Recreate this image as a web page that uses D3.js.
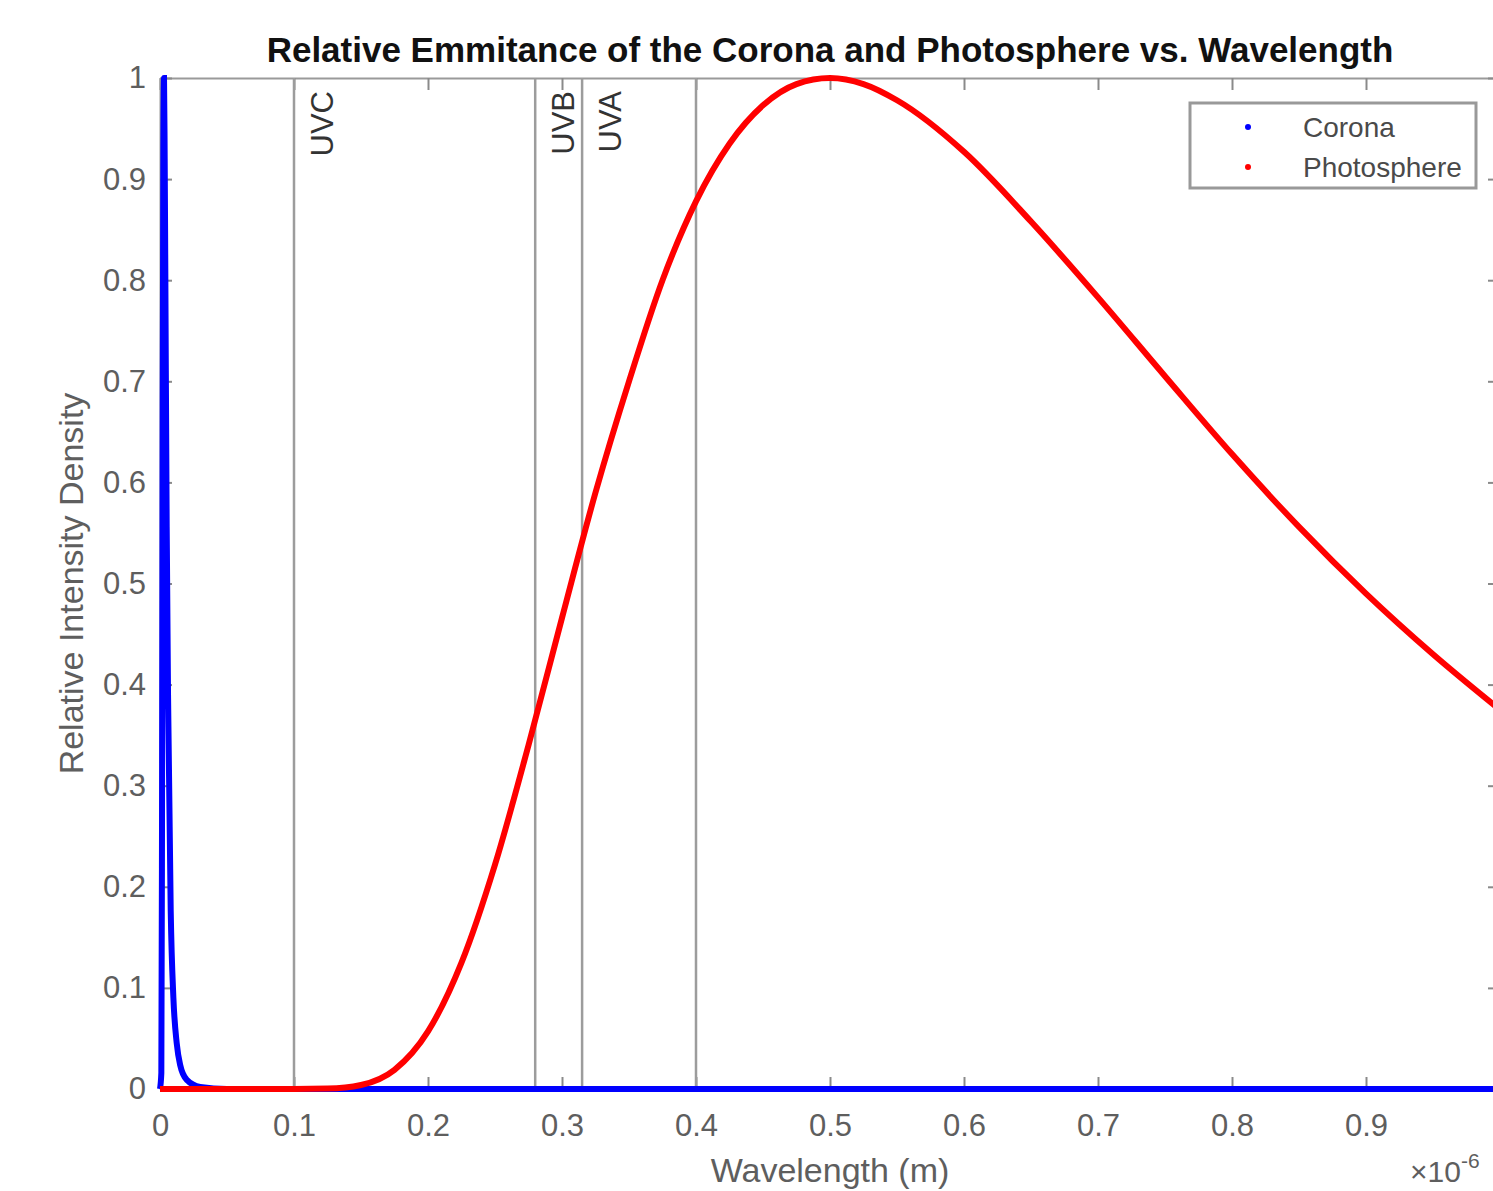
<!DOCTYPE html>
<html>
<head>
<meta charset="utf-8">
<script src="https://cdn.jsdelivr.net/npm/d3@7"></script>
<style>
  body { margin: 0; background: #fff; overflow: hidden; }
  text { font-family: "Liberation Sans", Arial, Helvetica, sans-serif; }
</style>
</head>
<body>
<script>
// wavelengths in units of 1e-6 m
var photoWave = [0, 0.05, 0.1, 0.125, 0.15, 0.175, 0.2, 0.225, 0.25, 0.275, 0.3, 0.325, 0.35, 0.375, 0.4,
  0.425, 0.45, 0.475, 0.5, 0.525, 0.55, 0.6, 0.65, 0.7, 0.75, 0.8, 0.85, 0.9, 0.95, 1.0];
var photoValues = [0, 0, 0, 0.0004, 0.004, 0.019, 0.057, 0.125, 0.222, 0.34, 0.466, 0.59, 0.70, 0.80, 0.878,
  0.935, 0.973, 0.994, 1.0, 0.994, 0.978, 0.927, 0.858, 0.783, 0.705, 0.628, 0.556, 0.49, 0.43, 0.375];

var coronaWave = [0, 0.001, 0.0015, 0.002, 0.0025, 0.003, 0.0035, 0.004, 0.005, 0.006, 0.008, 0.01, 0.0125,
  0.015, 0.02, 0.03, 0.05, 0.1, 0.2, 0.4, 0.6, 0.8, 1.0];
var coronaValues = [0, 0.016, 0.26, 0.68, 0.93, 1.0, 0.92, 0.80, 0.556, 0.39, 0.176, 0.09, 0.045,
  0.024, 0.009, 0.002, 0, 0, 0, 0, 0, 0, 0];

var uvLines = [0.1, 0.28, 0.315, 0.4];
var uvNames = ["UVC", "UVB", "UVA"];

var xTicks = [0, 0.1, 0.2, 0.3, 0.4, 0.5, 0.6, 0.7, 0.8, 0.9, 1];
var xTickLabels = ["0", "0.1", "0.2", "0.3", "0.4", "0.5", "0.6", "0.7", "0.8", "0.9", ""];
var yTicks = [0, 0.1, 0.2, 0.3, 0.4, 0.5, 0.6, 0.7, 0.8, 0.9, 1];
var yTickLabels = ["0", "0.1", "0.2", "0.3", "0.4", "0.5", "0.6", "0.7", "0.8", "0.9", "1"];

var w = 1493;
var h = 1191;
var pLeft = 160, pRight = 1500, pTop = 78, pBottom = 1089;

var svg = d3.select("body")
  .append("svg")
  .attr("width", w)
  .attr("height", h);

var x = d3.scaleLinear().domain([0, 1]).range([pLeft, pRight]);
var y = d3.scaleLinear().domain([0, 1]).range([pBottom, pTop]);

function styleAxis(g, showLabels) {
  g.select(".domain").attr("stroke", "#9a9a9a").attr("stroke-width", 2);
  g.selectAll(".tick line").attr("stroke", "#8a8a8a").attr("stroke-width", 2);
  g.selectAll(".tick text")
    .attr("fill", "#5e5e5e")
    .attr("font-size", "31px");
  if (!showLabels) g.selectAll(".tick text").remove();
}

// axes, MATLAB style ticks pointing inward
var xAxis = svg.append("g")
  .attr("transform", "translate(0," + pBottom + ")")
  .call(d3.axisBottom(x).tickValues(xTicks)
    .tickFormat(function(d, i) { return xTickLabels[i]; })
    .tickSizeInner(-12).tickSizeOuter(0).tickPadding(25));
styleAxis(xAxis, true);

var xTop = svg.append("g")
  .attr("transform", "translate(0," + pTop + ")")
  .call(d3.axisTop(x).tickValues(xTicks).tickSizeInner(-12).tickSizeOuter(0));
styleAxis(xTop, false);

var yAxis = svg.append("g")
  .attr("transform", "translate(" + pLeft + ",0)")
  .call(d3.axisLeft(y).tickValues(yTicks)
    .tickFormat(function(d, i) { return yTickLabels[i]; })
    .tickSizeInner(-12).tickSizeOuter(0).tickPadding(14));
styleAxis(yAxis, true);

var yRight = svg.append("g")
  .attr("transform", "translate(" + pRight + ",0)")
  .call(d3.axisRight(y).tickValues(yTicks).tickSizeInner(-12).tickSizeOuter(0));
styleAxis(yRight, false);

// UV band boundaries
svg.selectAll("line.uv")
  .data(uvLines)
  .enter()
  .append("line")
  .attr("class", "uv")
  .attr("x1", function(d) { return x(d); })
  .attr("x2", function(d) { return x(d); })
  .attr("y1", y(1))
  .attr("y2", y(0))
  .attr("stroke", "#9c9c9c")
  .attr("stroke-width", 2.5);

svg.selectAll("text.uvlabel")
  .data(uvNames)
  .enter()
  .append("text")
  .attr("class", "uvlabel")
  .attr("transform", function(d, i) {
    return "translate(" + (x(uvLines[i]) + 39) + "," + (pTop + 13) + ") rotate(-90)";
  })
  .attr("text-anchor", "end")
  .attr("font-size", "31px")
  .attr("fill", "#333")
  .text(function(d) { return d; });

// curves
var line = d3.line()
  .x(function(d) { return x(d[0]); })
  .y(function(d) { return y(d[1]); })
  .curve(d3.curveMonotoneX);

svg.append("path")
  .datum(d3.zip(coronaWave, coronaValues))
  .attr("d", line)
  .attr("fill", "none")
  .attr("stroke", "#0000ff")
  .attr("stroke-width", 6);

svg.append("path")
  .datum(d3.zip(photoWave, photoValues))
  .attr("d", line)
  .attr("fill", "none")
  .attr("stroke", "#ff0000")
  .attr("stroke-width", 6);

// title and labels
svg.append("text")
  .attr("x", (pLeft + pRight) / 2)
  .attr("y", 62)
  .attr("text-anchor", "middle")
  .attr("font-size", "35px")
  .attr("font-weight", "bold")
  .attr("fill", "#111")
  .text("Relative Emmitance of the Corona and Photosphere vs. Wavelength");

svg.append("text")
  .attr("x", (pLeft + pRight) / 2)
  .attr("y", 1182)
  .attr("text-anchor", "middle")
  .attr("font-size", "34px")
  .attr("fill", "#5e5e5e")
  .text("Wavelength (m)");

svg.append("text")
  .attr("transform", "translate(83," + ((pTop + pBottom) / 2) + ") rotate(-90)")
  .attr("text-anchor", "middle")
  .attr("font-size", "34px")
  .attr("fill", "#5e5e5e")
  .text("Relative Intensity Density");

var expo = svg.append("text")
  .attr("x", 1410)
  .attr("y", 1182)
  .attr("font-size", "30px")
  .attr("fill", "#5e5e5e");
expo.append("tspan").text("\u00d710");
expo.append("tspan").attr("dy", -14).attr("font-size", "21px").text("-6");

// legend
var legendNames = ["Corona", "Photosphere"];
var legendColors = ["#0000ff", "#ff0000"];

svg.append("rect")
  .attr("x", 1190)
  .attr("y", 103)
  .attr("width", 286)
  .attr("height", 85)
  .attr("fill", "#fff")
  .attr("stroke", "#999")
  .attr("stroke-width", 3);

var leg = svg.selectAll("g.leg")
  .data(legendNames)
  .enter()
  .append("g")
  .attr("class", "leg")
  .attr("transform", function(d, i) { return "translate(0," + (127 + i * 40) + ")"; });

leg.append("circle")
  .attr("cx", 1248)
  .attr("cy", 0)
  .attr("r", 3)
  .attr("fill", function(d, i) { return legendColors[i]; });

leg.append("text")
  .attr("x", 1303)
  .attr("y", 0)
  .attr("dy", "0.35em")
  .attr("font-size", "28px")
  .attr("fill", "#4a4a4a")
  .text(function(d) { return d; });
</script>
</body>
</html>
